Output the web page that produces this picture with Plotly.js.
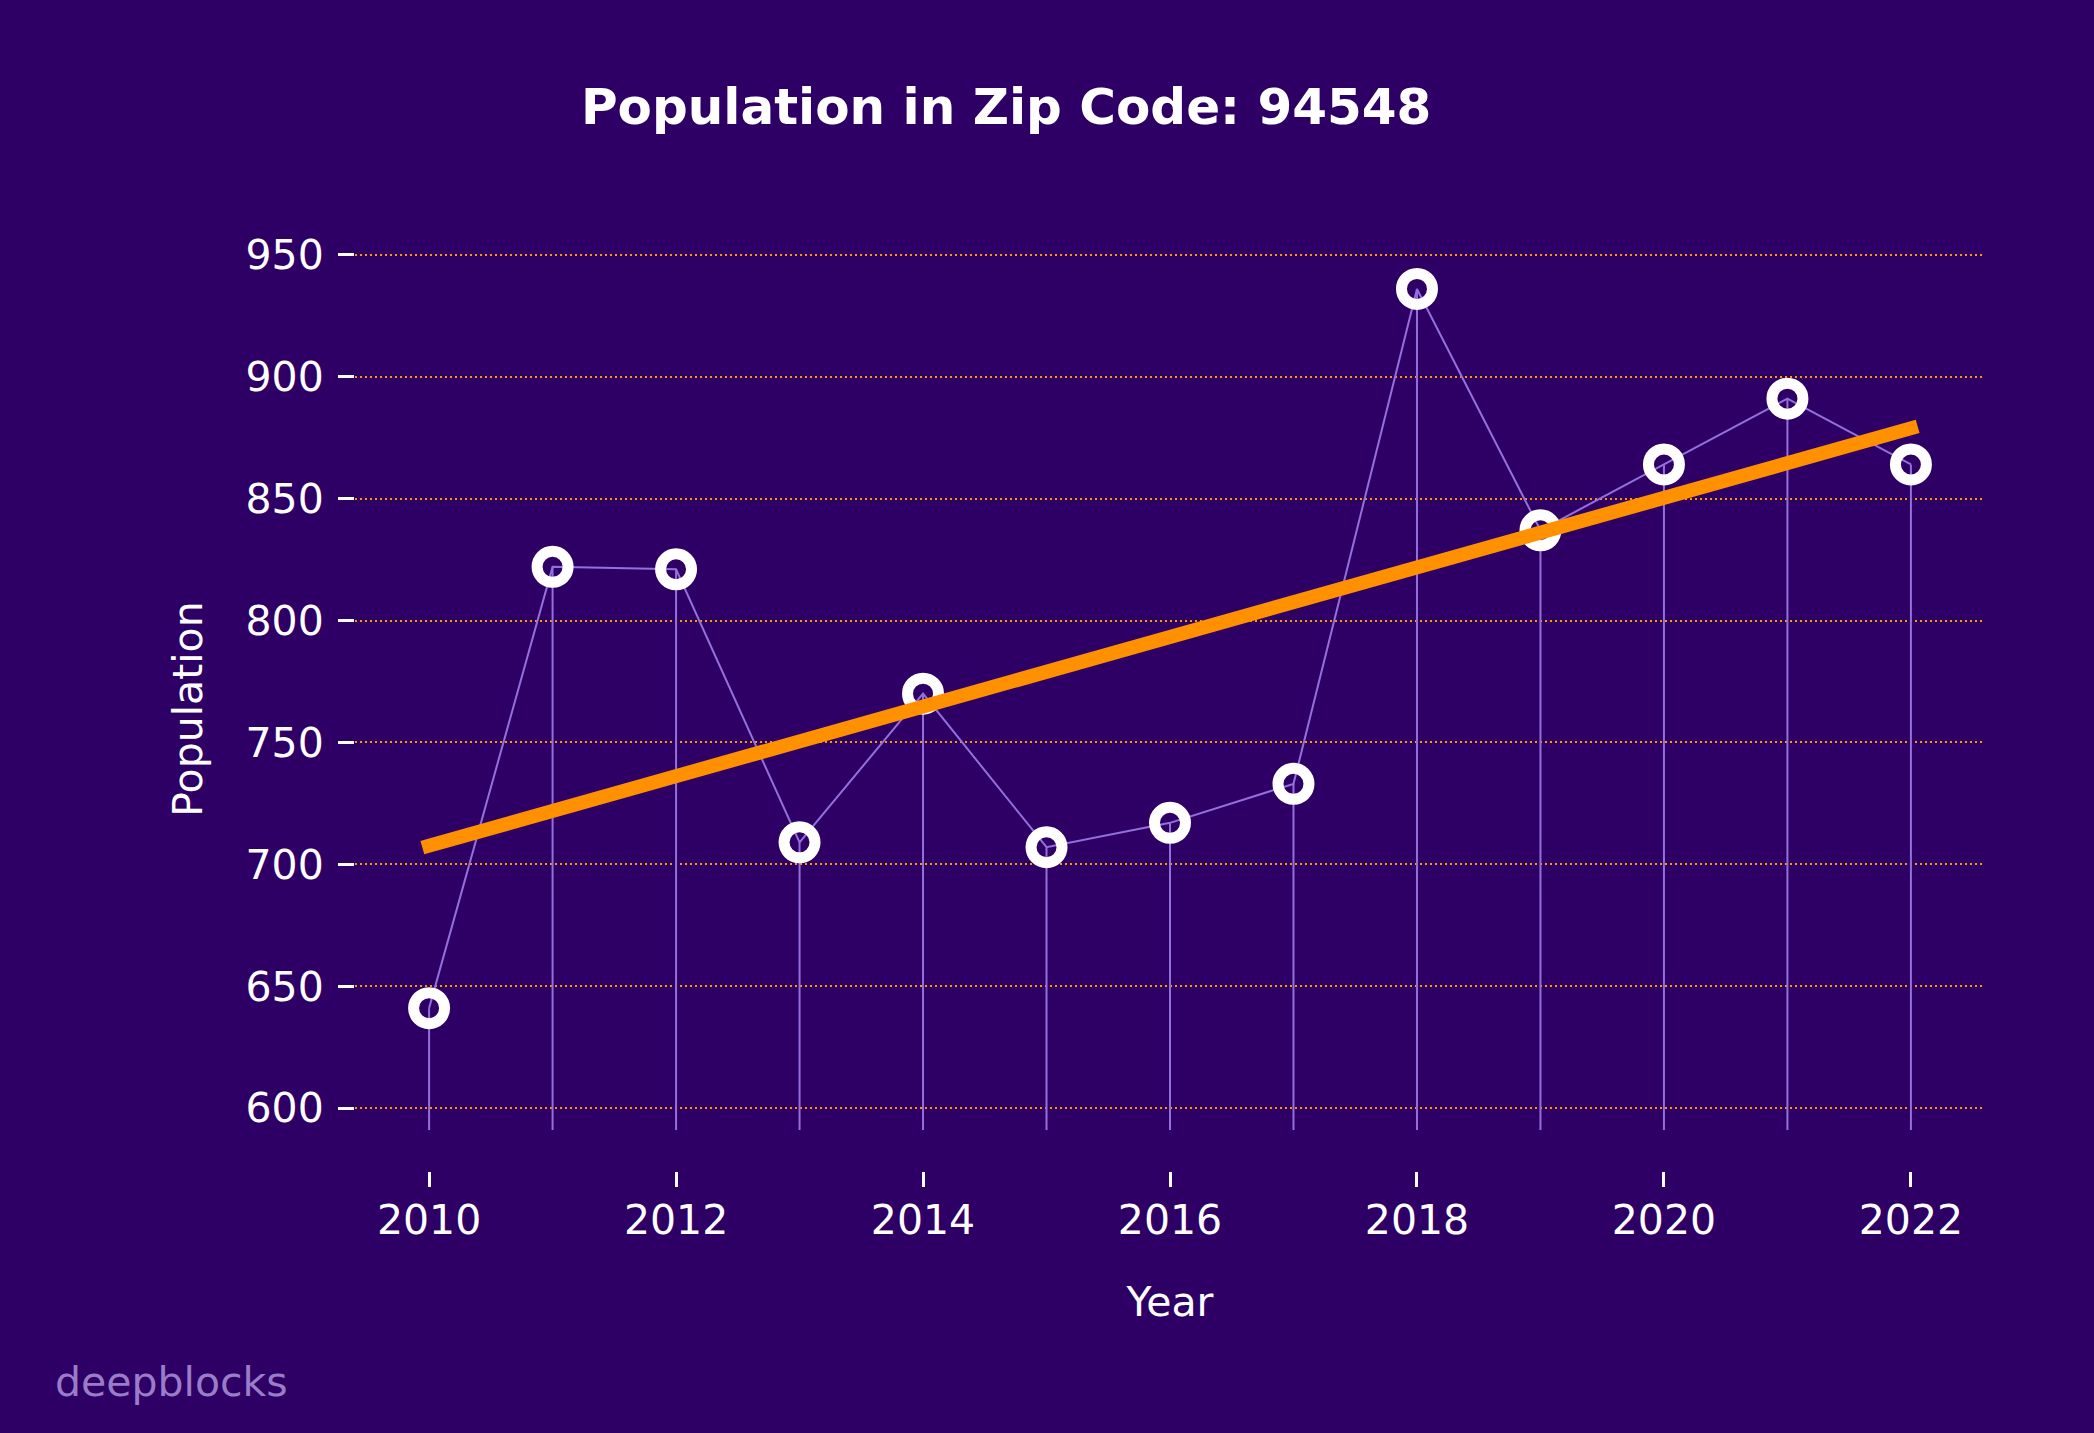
<!DOCTYPE html>
<html>
<head>
<meta charset="utf-8">
<script src="https://cdn.plot.ly/plotly-3.0.1.min.js"></script>
<style>
  html, body { margin: 0; padding: 0; background: #2e0066; }
  #chart { width: 2094px; height: 1433px; }
</style>
</head>
<body>
<div id="chart"></div>
<script>
// ---- data ----
const years = [2010, 2011, 2012, 2013, 2014, 2015, 2016, 2017, 2018, 2019, 2020, 2021, 2022];
const population = [641, 822, 821, 709, 770, 707, 717, 733, 936, 837, 864, 891, 864];
const yTickValues = [600, 650, 700, 750, 800, 850, 900, 950];
const xTickValues = [2010, 2012, 2014, 2016, 2018, 2020, 2022];
const chartTitle = 'Population in Zip Code: 94548';
const xLabel = 'Year';
const yLabel = 'Population';
const watermark = 'deepblocks';

// ---- derived ----
const stemBase = Math.min(...population) - 50;
const stemX = [], stemY = [];
years.forEach((yr, i) => { stemX.push(yr, yr, null); stemY.push(stemBase, population[i], null); });

// least-squares trend line
const n = years.length;
const mx = years.reduce((a, b) => a + b, 0) / n;
const my = population.reduce((a, b) => a + b, 0) / n;
let sxy = 0, sxx = 0;
years.forEach((yr, i) => { sxy += (yr - mx) * (population[i] - my); sxx += (yr - mx) * (yr - mx); });
const slope = sxy / sxx;
const trendY = years.map(yr => my + slope * (yr - mx));

const bg = '#2e0066';
const purple = '#9370db';
const font = 'DejaVu Sans, Liberation Sans, sans-serif';
const fs = 41;

const traces = [
  { x: stemX, y: stemY, mode: 'lines', line: { color: purple, width: 2 }, hoverinfo: 'skip', showlegend: false },
  { x: years, y: population, mode: 'lines', line: { color: purple, width: 2 }, showlegend: false },
  { x: years, y: population, mode: 'markers', marker: { symbol: 'circle', size: 31, color: 'rgba(0,0,0,0)', line: { width: 11, color: '#ffffff' } }, showlegend: false },
  { x: years, y: trendY, mode: 'lines', line: { color: '#ff9100', width: 14 }, showlegend: false }
];

const layout = {
  width: 2094, height: 1433,
  paper_bgcolor: bg, plot_bgcolor: bg,
  margin: { l: 355, r: 109, t: 247, b: 262, pad: 0 },
  font: { family: font, color: '#ffffff', size: fs },
  title: {
    text: '<b>' + chartTitle + '</b>',
    font: { family: font, size: 50, color: '#ffffff' },
    xref: 'container', x: 0.4805, xanchor: 'center',
    yref: 'container', y: 0.926, yanchor: 'middle'
  },
  xaxis: {
    range: [2009.4, 2022.6],
    tickvals: xTickValues, ticktext: xTickValues.map(String),
    ticks: 'outside', ticklen: 15, tickwidth: 3, tickcolor: '#ffffff',
    showgrid: false, zeroline: false, showline: false,
    tickfont: { family: font, size: fs, color: '#ffffff' },
    ticklabelstandoff: -2,
    title: { text: xLabel, font: { family: font, size: fs, color: '#ffffff' }, standoff: 44 }
  },
  yaxis: {
    range: [574.2, 953.2],
    tickvals: yTickValues, ticktext: yTickValues.map(String),
    ticks: 'outside', ticklen: 16, tickwidth: 3, tickcolor: '#ffffff',
    showgrid: true, gridcolor: '#ff9900', gridwidth: 2, griddash: '2px,3px',
    zeroline: false, showline: false,
    tickfont: { family: font, size: fs, color: '#ffffff' },
    ticklabelstandoff: 6,
    title: { text: yLabel, font: { family: font, size: fs, color: '#ffffff' }, standoff: 30 }
  },
  annotations: [{
    text: watermark, showarrow: false,
    xref: 'paper', yref: 'paper',
    x: (53 - 355) / 1630, xanchor: 'left',
    y: (1171 - 1382) / 924, yanchor: 'middle',
    font: { family: font, size: fs, color: '#9a7cc8' }
  }]
};

Plotly.newPlot('chart', traces, layout, { staticPlot: true, displayModeBar: false }).then(() => {
  // matplotlib-style projecting line caps for the trend line
  const tr = document.querySelectorAll('.scatterlayer .trace');
  const last = tr[tr.length - 1];
  if (last) last.querySelectorAll('path.js-line').forEach(p => p.style.strokeLinecap = 'square');
});
</script>
</body>
</html>
